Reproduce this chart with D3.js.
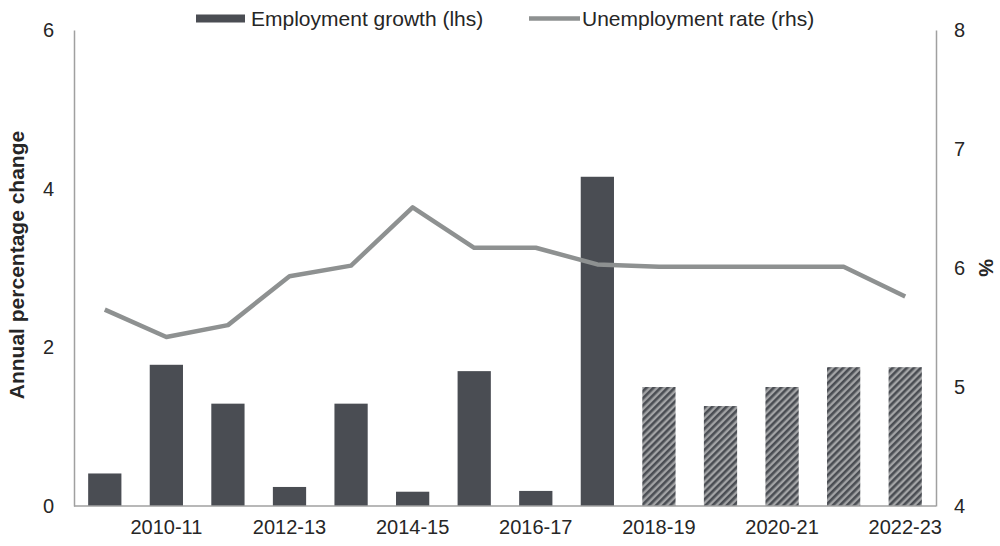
<!DOCTYPE html>
<html>
<head>
<meta charset="utf-8">
<script src="https://cdn.jsdelivr.net/npm/d3@7"></script>
<style>
  html, body { margin: 0; padding: 0; background: #fff; }
  svg { display: block; font-family: "Liberation Sans", Arial, sans-serif; }
</style>
</head>
<body>
<svg id="chart" width="1000" height="546"></svg>
<script>
// Financial years
const years = ["2009-10","2010-11","2011-12","2012-13","2013-14","2014-15","2015-16",
               "2016-17","2017-18","2018-19","2019-20","2020-21","2021-22","2022-23"];
// Employment growth, annual percentage change (left axis)
const employmentGrowth = [0.41, 1.78, 1.29, 0.24, 1.29, 0.18, 1.70, 0.19, 4.15, 1.50, 1.26, 1.50, 1.75, 1.75];
// Unemployment rate, % (right axis)
const unemploymentRate = [5.65, 5.42, 5.52, 5.93, 6.02, 6.51, 6.17, 6.17, 6.03, 6.01, 6.01, 6.01, 6.01, 5.76];
// First forecast year (bars from here on are hatched)
const forecastFrom = "2018-19";
// Axis ticks
const leftTicks = [0, 2, 4, 6];
const rightTicks = [4, 5, 6, 7, 8];
const xLabelYears = ["2010-11","2012-13","2014-15","2016-17","2018-19","2020-21","2022-23"];

const svg = d3.select("#chart");
const plot = { left: 74, right: 936, top: 30, bottom: 506 };

const x = d3.scaleBand().domain(years).range([plot.left, plot.right])
  .paddingInner(0.46).paddingOuter(0.23);
const yL = d3.scaleLinear().domain([0, 6]).range([plot.bottom, plot.top]);
const yR = d3.scaleLinear().domain([4, 8]).range([plot.bottom, plot.top]);

const barColor = "#4a4d53";
const lineColor = "#8e9191";
const axisColor = "#a0a0a0";
const textColor = "#262626";

// Diagonal hatch for forecast bars
const defs = svg.append("defs");
const pat = defs.append("pattern").attr("id", "hatch")
  .attr("patternUnits", "userSpaceOnUse")
  .attr("width", 5).attr("height", 5)
  .attr("patternTransform", "rotate(45)");
pat.append("rect").attr("width", 5).attr("height", 5).attr("fill", "#a3a4a6");
pat.append("rect").attr("width", 2.6).attr("height", 5).attr("fill", barColor);

const forecastIdx = years.indexOf(forecastFrom);

// Bars
svg.append("g").selectAll("rect")
  .data(years.map((yr, i) => ({ yr, v: employmentGrowth[i], f: i >= forecastIdx })))
  .join("rect")
  .attr("x", d => x(d.yr))
  .attr("width", x.bandwidth())
  .attr("y", d => yL(d.v))
  .attr("height", d => yL(0) - yL(d.v))
  .attr("fill", d => d.f ? "url(#hatch)" : barColor);

// Unemployment line
const line = d3.line()
  .x((d, i) => x(years[i]) + x.bandwidth() / 2)
  .y(d => yR(d));
svg.append("path")
  .datum(unemploymentRate)
  .attr("d", line)
  .attr("fill", "none")
  .attr("stroke", lineColor)
  .attr("stroke-width", 4.5)
  .attr("stroke-linejoin", "round");

// Axes (lines only, no tick marks)
const leftAxis = d3.axisLeft(yL).tickValues(leftTicks).tickSize(0).tickPadding(20).tickFormat(d3.format("d"));
const rightAxis = d3.axisRight(yR).tickValues(rightTicks).tickSize(0).tickPadding(18).tickFormat(d3.format("d"));
const bottomAxis = d3.axisBottom(x).tickValues(xLabelYears).tickSize(0).tickPadding(14);

function styleAxis(g) {
  g.select(".domain").attr("stroke", axisColor).attr("stroke-width", 1.5);
  g.selectAll("text").attr("fill", textColor).attr("font-size", 20)
    .attr("font-family", "'Liberation Sans', Arial, sans-serif");
}

svg.append("g").attr("transform", `translate(${plot.left},0)`).call(leftAxis).call(styleAxis);
svg.append("g").attr("transform", `translate(${plot.right},0)`).call(rightAxis).call(styleAxis);
svg.append("g").attr("transform", `translate(0,${plot.bottom})`).call(bottomAxis).call(styleAxis)
  .select(".domain").attr("d", `M${plot.left},0H${plot.right}`);

// Axis titles
svg.append("text")
  .attr("transform", `translate(24,265) rotate(-90)`)
  .attr("text-anchor", "middle")
  .attr("font-size", 21).attr("font-weight", "bold").attr("fill", textColor)
  .text("Annual percentage change");
svg.append("text")
  .attr("transform", `translate(979,${yR(6)}) rotate(90)`)
  .attr("text-anchor", "middle")
  .attr("font-size", 20).attr("font-weight", "bold").attr("fill", textColor)
  .text("%");

// Legend
const legend = svg.append("g").attr("font-size", 21).attr("fill", textColor);
legend.append("rect").attr("x", 196).attr("y", 14.5).attr("width", 49).attr("height", 8).attr("fill", barColor);
legend.append("text").attr("x", 251).attr("y", 26).text("Employment growth (lhs)");
legend.append("line").attr("x1", 529).attr("x2", 580).attr("y1", 18.5).attr("y2", 18.5)
  .attr("stroke", lineColor).attr("stroke-width", 4.5);
legend.append("text").attr("x", 582).attr("y", 26).text("Unemployment rate (rhs)");
</script>
</body>
</html>
